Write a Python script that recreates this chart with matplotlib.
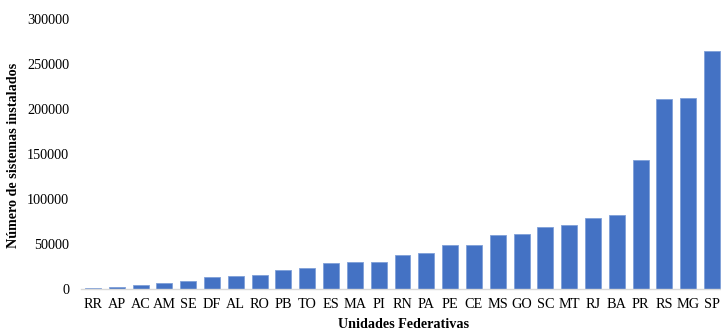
import matplotlib
matplotlib.use("Agg")
from matplotlib import pyplot as plt

estados = ["RR", "AP", "AC", "AM", "SE", "DF", "AL", "RO", "PB", "TO", "ES", "MA", "PI",
           "RN", "PA", "PE", "CE", "MS", "GO", "SC", "MT", "RJ", "BA", "PR", "RS", "MG", "SP"]
sistemas = [800, 2200, 4100, 6000, 8200, 12700, 14100, 14900, 20800, 22700, 28600, 29900, 29700,
            37200, 40100, 48700, 49000, 59400, 60900, 68400, 70900, 78400, 81700, 143700, 210900,
            212700, 264400]
yticks = [0, 50000, 100000, 150000, 200000, 250000, 300000]

plt.rcParams["font.family"] = ["Liberation Serif", "DejaVu Serif"]

fig = plt.figure(figsize=(7.21, 3.32), dpi=100)
ax = fig.add_axes([81 / 721, 0.1304, 643 / 721, 0.8116])

ax.bar(range(len(estados)), sistemas, width=0.67, color="#4472C4", edgecolor="#7f9fd8", linewidth=0.6)
ax.set_xlim(-0.5, len(estados) - 0.5)
ax.set_ylim(0, 300000)
ax.set_xticks(range(len(estados)))
ax.set_xticklabels(estados)
ax.set_yticks(yticks)
ax.set_yticklabels([str(v) for v in yticks])
ax.tick_params(axis="both", length=0, labelsize=10.3, colors="#000000")
ax.tick_params(axis="y", pad=8.6)
ax.tick_params(axis="x", pad=7)

for s in ["top", "right", "left"]:
    ax.spines[s].set_visible(False)
ax.spines["bottom"].set_color("#d9d9d9")
ax.spines["bottom"].set_linewidth(1.0)

fig.text(404 / 721, 1 - 325 / 332, "Unidades Federativas", ha="center", va="center",
         fontsize=10.2, fontweight="bold")
fig.text(14 / 721, 1 - 155 / 332, "Número de sistemas instalados", ha="center", va="center",
         rotation=90, fontsize=10.2, fontweight="bold")

plt.savefig("out.png", dpi=100)
